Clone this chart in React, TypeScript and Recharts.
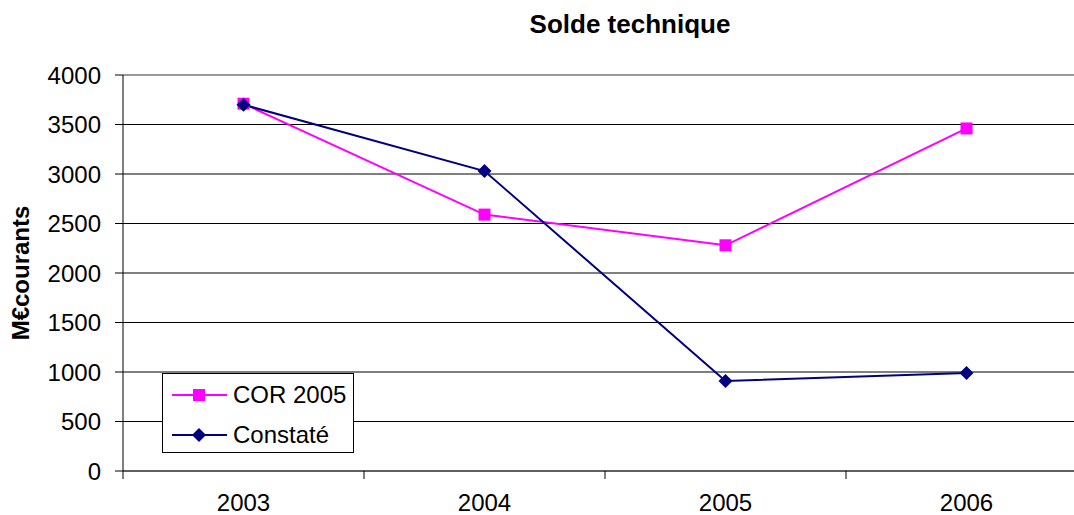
import { ComposedChart, Line, XAxis, YAxis, CartesianGrid, ReferenceLine } from 'recharts';

const years = [2003, 2004, 2005, 2006];
const cor2005 = [3710, 2590, 2280, 3460];
const constate = [3700, 3030, 910, 990];
const yTicks = [0, 500, 1000, 1500, 2000, 2500, 3000, 3500, 4000];
// tick marks sit between the years, labels on the years
const xTicks = [2002.5, 2003, 2003.5, 2004, 2004.5, 2005, 2005.5, 2006, 2006.5];

const data = years.map((y, i) => ({ year: y, cor: cor2005[i], constate: constate[i] }));

const FONT = '"Liberation Sans", Arial, sans-serif';
const PINK = '#FF00FF';
const NAVY = '#000080';

function SquareDot(props: any) {
  const { cx, cy, index } = props;
  if (cx == null || cy == null) return null;
  return <rect key={`sq-${index}`} x={cx - 6} y={cy - 6} width={12} height={12} fill={PINK} />;
}

function DiamondDot(props: any) {
  const { cx, cy, index } = props;
  if (cx == null || cy == null) return null;
  return (
    <polygon
      key={`di-${index}`}
      points={`${cx},${cy - 7} ${cx + 7},${cy} ${cx},${cy + 7} ${cx - 7},${cy}`}
      fill={NAVY}
    />
  );
}

function XTick(props: any) {
  const { x, y, payload } = props;
  const v = payload.value;
  if (Number.isInteger(v)) {
    return (
      <text x={x} y={y + 31} textAnchor="middle" dominantBaseline="central" fontSize={24} fontFamily={FONT} fill="#000">
        {v}
      </text>
    );
  }
  return <line x1={x} y1={y} x2={x} y2={y + 8} stroke="#000" strokeWidth={1} />;
}

function YLabel(props: any) {
  const vb = props.viewBox || { x: 0, y: 0, width: 0, height: 0 };
  const cx = vb.x + 20;
  const cy = vb.y + vb.height / 2;
  return (
    <text
      x={cx}
      y={cy}
      transform={`rotate(-90, ${cx}, ${cy})`}
      textAnchor="middle"
      dominantBaseline="central"
      fontSize={24}
      fontWeight="bold"
      fontFamily={FONT}
      fill="#000"
    >
      M€courants
    </text>
  );
}

function LegendBox() {
  const rows = [
    { label: 'COR 2005', color: PINK, marker: 'square' },
    { label: 'Constaté', color: NAVY, marker: 'diamond' },
  ];
  return (
    <div
      style={{
        position: 'absolute',
        left: 162,
        top: 373,
        width: 190,
        height: 78,
        border: '1px solid #000',
        background: '#fff',
        fontFamily: FONT,
        fontSize: 24,
      }}
    >
      {rows.map((r, i) => (
        <div key={r.label} style={{ display: 'flex', alignItems: 'center', height: 40, marginTop: i === 0 ? 1 : 0 }}>
          <svg width={70} height={20} style={{ flex: 'none' }}>
            <line x1={9} y1={10} x2={64} y2={10} stroke={r.color} strokeWidth={2} />
            {r.marker === 'square' ? (
              <rect x={30} y={4} width={12} height={12} fill={r.color} />
            ) : (
              <polygon points="36,3 43,10 36,17 29,10" fill={r.color} />
            )}
          </svg>
          <span style={{ color: '#000', lineHeight: '24px' }}>{r.label}</span>
        </div>
      ))}
    </div>
  );
}

export default function App() {
  return (
    <div
      style={{
        position: 'fixed',
        left: 0,
        top: 0,
        width: 1074,
        height: 515,
        overflow: 'hidden',
        background: '#fff',
      }}
    >
      <div
        style={{
          position: 'absolute',
          left: 430,
          top: 11,
          width: 400,
          textAlign: 'center',
          fontFamily: FONT,
          fontSize: 26,
          lineHeight: '26px',
          fontWeight: 'bold',
          color: '#000',
        }}
      >
        Solde technique
      </div>
      <ComposedChart width={1100} height={515} data={data} margin={{ top: 75, right: 13, bottom: 0, left: 0 }}>
        <CartesianGrid vertical={false} stroke="#000" strokeWidth={1} />
        <ReferenceLine y={4000} stroke="#999" strokeWidth={2} />
        <XAxis
          dataKey="year"
          type="number"
          domain={[2002.5, 2006.5]}
          ticks={xTicks}
          interval={0}
          height={44}
          tickLine={false}
          tickSize={0}
          tickMargin={0}
          tick={<XTick />}
          axisLine={{ stroke: '#555', strokeWidth: 1.5 }}
        />
        <YAxis
          domain={[0, 4000]}
          ticks={yTicks}
          interval={0}
          width={123}
          tickSize={8}
          tickMargin={14}
          tick={{ fontSize: 24, fontFamily: FONT, fill: '#000' }}
          tickLine={{ stroke: '#000' }}
          axisLine={{ stroke: '#000' }}
          label={<YLabel />}
        />
        <Line
          type="linear"
          dataKey="cor"
          name="COR 2005"
          stroke={PINK}
          strokeWidth={2}
          dot={<SquareDot />}
          activeDot={false}
          isAnimationActive={false}
        />
        <Line
          type="linear"
          dataKey="constate"
          name="Constaté"
          stroke={NAVY}
          strokeWidth={2}
          dot={<DiamondDot />}
          activeDot={false}
          isAnimationActive={false}
        />
      </ComposedChart>
      <LegendBox />
    </div>
  );
}
